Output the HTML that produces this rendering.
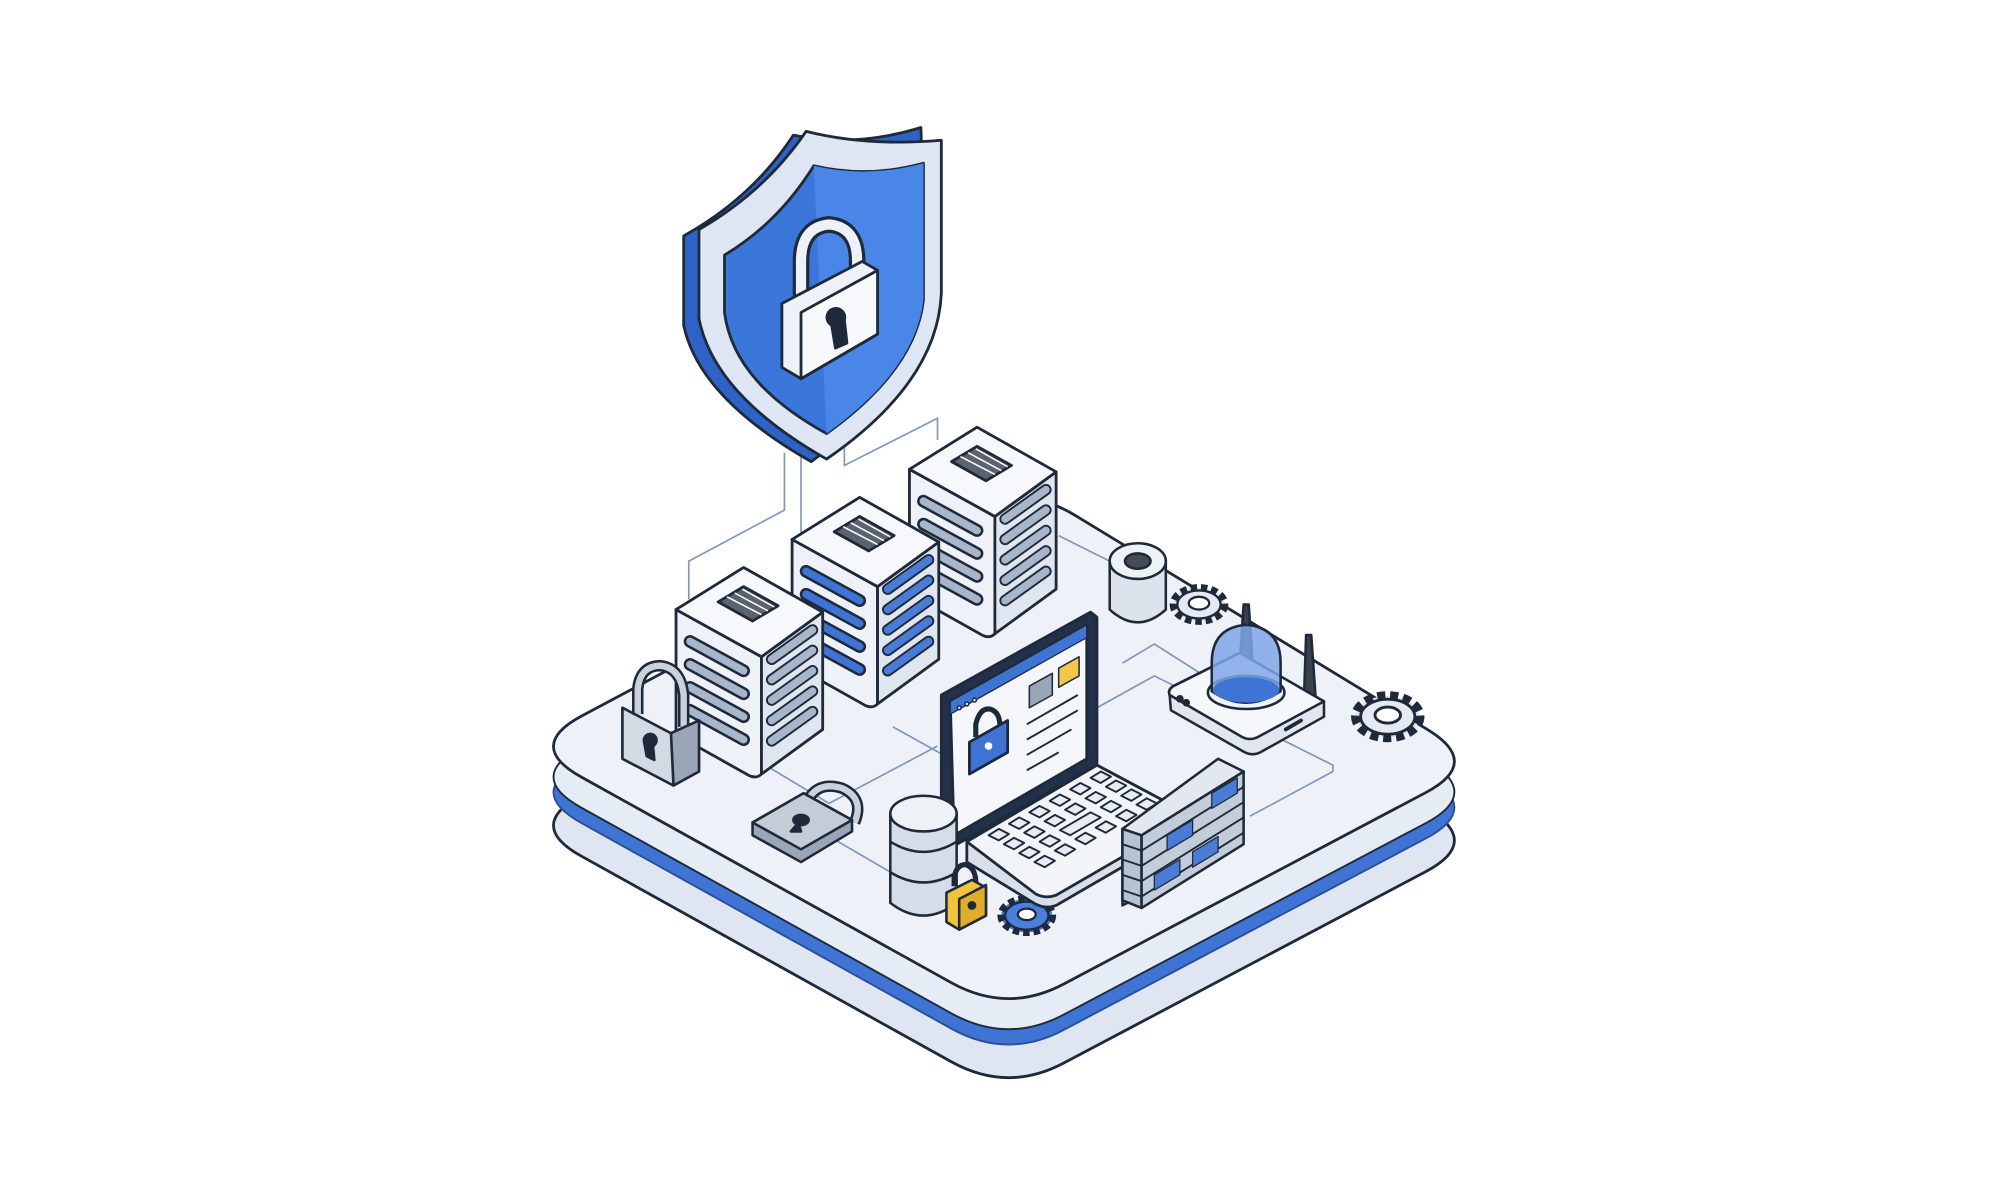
<!DOCTYPE html>
<html><head><meta charset="utf-8"><style>html,body{margin:0;padding:0;background:#fff}svg{display:block}</style></head>
<body>
<svg width="2000" height="1200" viewBox="0 0 1568 941" preserveAspectRatio="none" xmlns="http://www.w3.org/2000/svg">
<defs>
<path id="plat" d="M456,561.5 L756,401.5 Q800,378 842.7,404 L1119,572 Q1162,598 1118,621.4 L834,771.6 Q790,795 746,770.7 L455.7,609.3 Q412,585 456,561.5 Z"/>
<g id="server" stroke="#1e2a3a" stroke-width="2.2" stroke-linejoin="round">
<path d="M-67,-37 L0,0 L0,92 Q-4,96 -10,93 L-67,61 Z" fill="#eef1f7"/>
<path d="M0,0 L48,-35 L48,57 L0,92 Z" fill="#e0e6ef"/>
<path d="M-67,-37 L-14,-70 L48,-35 L0,0 Z" fill="#f6f8fb"/>
<path d="M-34,-43 L-14,-55 L13,-40 L-7,-28 Z" fill="#5b6370"/>
<g stroke="#fff" stroke-width="1.2"><path d="M-27,-47 L0,-33"/><path d="M-21,-50 L5,-36"/><path d="M-15,-53 L10,-39"/></g>
</g>
<g id="lslots" stroke-linecap="round">
<g stroke="#1e2a3a" stroke-width="10"><path d="M-56,-12 L-14,11"/><path d="M-56,6 L-14,29"/><path d="M-56,24 L-14,47"/><path d="M-56,42 L-14,65"/></g>
</g>
<g id="rslots" stroke-linecap="round">
<g stroke="#1e2a3a" stroke-width="9"><path d="M8,2 L40,-21"/><path d="M8,18 L40,-5"/><path d="M8,34 L40,11"/><path d="M8,50 L40,27"/><path d="M8,66 L40,43"/></g>
</g>
<g id="gear" stroke="#1e2a3a" stroke-width="1.8">
<ellipse cx="0" cy="0" rx="20" ry="13" fill="#dfe4ec" stroke-dasharray="5 3" stroke-width="6"/>
<ellipse cx="0" cy="0" rx="17" ry="11" fill="#e5e9f0"/>
<ellipse cx="0" cy="-1" rx="8" ry="5" fill="#fff"/>
</g>
</defs>

<use href="#plat" transform="translate(0,62)" fill="#dfe6f1" stroke="#1e2a3a" stroke-width="2.2"/>
<use href="#plat" transform="translate(0,36)" fill="#3f74d4" stroke="#2a4f99" stroke-width="1.5"/>
<use href="#plat" transform="translate(0,24)" fill="#e6ecf5" stroke="#1e2a3a" stroke-width="1.5"/>
<use href="#plat" fill="#eef2f8" stroke="#1e2a3a" stroke-width="2.2"/>

<g fill="none" stroke="#7d97bd" stroke-width="1.3">
<path d="M615,355 L615,400 L540,440 L540,470"/>
<path d="M628,350 L628,480"/>
<path d="M662,345 L662,365 L735,328 L735,345"/>
<path d="M830,420 L870,440"/>
<path d="M880,520 L905,505 L960,540"/>
<path d="M860,555 L905,530 L1045,600 L1045,605 L980,640"/>
<path d="M600,600 L650,630 L735,585"/>
<path d="M640,650 L700,685"/>
<path d="M700,570 L745,595"/>
</g>

<use href="#server" transform="translate(780,405)"/>
<use href="#lslots" transform="translate(780,405)"/>
<g transform="translate(780,405)" stroke-linecap="round" stroke="#a8b6cb" stroke-width="6"><path d="M-56,-12 L-14,11"/><path d="M-56,6 L-14,29"/><path d="M-56,24 L-14,47"/><path d="M-56,42 L-14,65"/></g>
<use href="#rslots" transform="translate(780,405)"/>
<g transform="translate(780,405)" stroke-linecap="round" stroke="#a8b6cb" stroke-width="6"><path d="M8,2 L40,-21"/><path d="M8,18 L40,-5"/><path d="M8,34 L40,11"/><path d="M8,50 L40,27"/><path d="M8,66 L40,43"/></g>

<use href="#server" transform="translate(688,460)"/>
<use href="#lslots" transform="translate(688,460)"/>
<g transform="translate(688,460)" stroke-linecap="round" stroke="#3f74d4" stroke-width="6"><path d="M-56,-12 L-14,11"/><path d="M-56,6 L-14,29"/><path d="M-56,24 L-14,47"/><path d="M-56,42 L-14,65"/></g>
<use href="#rslots" transform="translate(688,460)"/>
<g transform="translate(688,460)" stroke-linecap="round" stroke="#4a7bd6" stroke-width="6"><path d="M8,2 L40,-21"/><path d="M8,18 L40,-5"/><path d="M8,34 L40,11"/><path d="M8,50 L40,27"/><path d="M8,66 L40,43"/></g>

<use href="#server" transform="translate(597,515)"/>
<use href="#lslots" transform="translate(597,515)"/>
<g transform="translate(597,515)" stroke-linecap="round" stroke="#a8b6cb" stroke-width="6"><path d="M-56,-12 L-14,11"/><path d="M-56,6 L-14,29"/><path d="M-56,24 L-14,47"/><path d="M-56,42 L-14,65"/></g>
<use href="#rslots" transform="translate(597,515)"/>
<g transform="translate(597,515)" stroke-linecap="round" stroke="#a8b6cb" stroke-width="6"><path d="M8,2 L40,-21"/><path d="M8,18 L40,-5"/><path d="M8,34 L40,11"/><path d="M8,50 L40,27"/><path d="M8,66 L40,43"/></g>

<g stroke="#1e2a3a" stroke-width="2.2" stroke-linejoin="round">
<path d="M536,185 Q590,155 622,106 Q670,116 722,100 L726,232 Q722,300 636,362 Q548,312 536,255 Z" fill="#2f62c6"/>
<path d="M548,180 Q600,150 632,103 Q680,115 738,110 L738,230 Q735,300 648,360 Q560,310 548,250 Z" fill="#dfe6f3"/>
<path d="M568,200 Q610,175 638,130 Q680,140 724,128 L724,235 Q718,290 648,340 Q575,300 568,245 Z" fill="#3b76db"/>
<path d="M638,130 Q680,140 724,128 L724,235 Q718,290 648,340 Z" fill="#4a86e8" stroke="none"/>
<path d="M628,230 L628,205 Q628,178 650,176 Q672,178 672,205 L672,222" fill="none" stroke="#1e2a3a" stroke-width="13" stroke-linecap="round"/>
<path d="M628,230 L628,205 Q628,178 650,176 Q672,178 672,205 L672,222" fill="none" stroke="#eef1f7" stroke-width="8" stroke-linecap="round"/>
<path d="M613,238 L676,205 L688,212 L688,262 L628,297 L613,288 Z" fill="#eef1f7"/>
<path d="M628,245 L688,212 L688,262 L628,297 Z" fill="#f8f9fc"/>
<path d="M652,255 a7,7 0 1 1 10,-4 l2,18 l-9,4 Z" fill="#1e2a3a"/>
</g>

<g stroke="#1e2a3a" stroke-width="2">
<path d="M870,440 L870,478 Q892,498 914,478 L914,440 Z" fill="#dde3ec"/>
<ellipse cx="892" cy="440" rx="22" ry="14" fill="#eef1f6"/>
<ellipse cx="892" cy="440" rx="10" ry="6" fill="#444c58"/>
</g>

<use href="#gear" transform="translate(940,474)"/>
<use href="#gear" transform="translate(1088,562) scale(1.25)"/>
<g transform="translate(805,718)" stroke="#1e2a3a" stroke-width="1.8">
<ellipse rx="20" ry="13" fill="#3f74d4" stroke-dasharray="5 3" stroke-width="6"/>
<ellipse rx="17" ry="11" fill="#4a7fdc"/><ellipse cy="-1" rx="7" ry="4.5" fill="#fff"/></g>

<g stroke="#1e2a3a" stroke-width="2" stroke-linejoin="round">
<path d="M1024,498 L1028,498 L1032,555 L1022,557 Z" fill="#3a414c"/>
<path d="M975,474 L979,474 L982,520 L972,520 Z" fill="#3a414c"/>
<path d="M917,545 Q915,540 922,537 L972,512 L1038,550 L1038,562 L988,590 Q982,593 976,590 L918,557 Z" fill="#e1e6ee"/>
<path d="M917,545 Q915,540 922,537 L972,512 L1038,550 L986,578 Q980,581 974,578 Z" fill="#f5f7fa"/>
<ellipse cx="977" cy="543" rx="30" ry="13" fill="#eef1f6"/>
<path d="M950,542 L950,520 Q950,492 977,490 Q1004,492 1004,520 L1004,542 Q977,560 950,542 Z" fill="#7fa6e8" fill-opacity="0.85"/>
<ellipse cx="977" cy="541" rx="26" ry="10" fill="#3f74d4" stroke="none"/>
<circle cx="925" cy="548" r="2" fill="#1e2a3a"/><circle cx="930" cy="551" r="2" fill="#1e2a3a"/>
<path d="M1008,572 L1020,565" stroke-width="3" stroke-linecap="round"/>
</g>

<g stroke="#1e2a3a" stroke-width="2" stroke-linejoin="round">
<path d="M500,560 L500,540 Q502,522 518,522 Q534,524 536,545 L536,570" fill="none" stroke-width="9"/>
<path d="M500,560 L500,540 Q502,522 518,522 Q534,524 536,545 L536,570" fill="none" stroke="#c9d1dd" stroke-width="5"/>
<path d="M488,555 L526,575 L548,565 L548,605 L528,616 L488,595 Z" fill="#c0c9d6"/>
<path d="M526,575 L548,565 L548,605 L528,616 Z" fill="#9aa6b8"/>
<path d="M488,555 L526,575 L528,616 L488,595 Z" fill="#d3dae4"/>
<path d="M505,582 a5,5 0 1 1 7,3 l1,11 l-6,-3 Z" fill="#1e2a3a"/>
</g>

<g stroke="#1e2a3a" stroke-width="2" stroke-linejoin="round">
<path d="M632,630 Q640,612 660,618 Q678,626 670,645" fill="none" stroke-width="9"/>
<path d="M632,630 Q640,612 660,618 Q678,626 670,645" fill="none" stroke="#c9d1dd" stroke-width="5"/>
<path d="M590,645 L630,622 L668,643 L668,652 L628,676 L590,655 Z" fill="#9aa6b8"/>
<path d="M590,645 L630,622 L668,643 L628,666 Z" fill="#c4ccd8"/>
<ellipse cx="628" cy="643" rx="6" ry="4" fill="#1e2a3a"/><path d="M626,645 L620,652 L628,652 Z" fill="#1e2a3a"/>
</g>

<g stroke="#1e2a3a" stroke-width="2.2" stroke-linejoin="round">
<path d="M758,660 L860,600 L935,640 L935,648 L828,710 Q820,713 812,709 L758,676 Z" fill="#d9dfe9"/>
<path d="M758,660 L860,600 L935,640 L828,702 Q820,705 812,701 Z" fill="#f2f4f8"/>
<path d="M738,545 L855,480 L860,484 L860,600 L745,665 L738,660 Z" fill="#23304a"/>
<path d="M745,550 L852,490 L852,595 L748,655 Z" fill="#f4f6fa"/>
<path d="M745,550 L852,490 L852,500 L745,560 Z" fill="#3f74d4" stroke-width="1"/>
<path d="M807,538 L825,528 L825,545 L807,555 Z" fill="#9aa6b8" stroke-width="1.2"/>
<path d="M830,524 L846,515 L846,530 L830,539 Z" fill="#f2c84b" stroke-width="1.2"/>
<g stroke-width="1.5" fill="none"><path d="M805,568 L845,545"/><path d="M805,580 L845,557"/><path d="M805,592 L840,572"/><path d="M805,604 L830,590"/></g>
<path d="M765,578 L765,568 Q768,555 776,556 Q784,558 784,570 L784,578" fill="none" stroke-width="4"/>
<path d="M760,582 L790,565 L790,590 L760,607 Z" fill="#3f74d4"/>
<circle cx="775" cy="585" r="3" fill="#fff" stroke="none"/>
<g fill="#fff" stroke-width="1.2">
<circle cx="752" cy="555" r="1.5"/><circle cx="758" cy="552" r="1.5"/><circle cx="764" cy="549" r="1.5"/>
</g>
<g fill="#e8ecf2" stroke-width="1.5">
<path d="M775,655 l8,-5 l8,4 l-8,5 Z"/><path d="M791,646 l8,-5 l8,4 l-8,5 Z"/><path d="M807,637 l8,-5 l8,4 l-8,5 Z"/><path d="M823,628 l8,-5 l8,4 l-8,5 Z"/><path d="M839,619 l8,-5 l8,4 l-8,5 Z"/><path d="M855,610 l8,-5 l8,4 l-8,5 Z"/>
<path d="M787,662 l8,-5 l8,4 l-8,5 Z"/><path d="M803,653 l8,-5 l8,4 l-8,5 Z"/><path d="M819,644 l8,-5 l8,4 l-8,5 Z"/><path d="M835,635 l8,-5 l8,4 l-8,5 Z"/><path d="M851,626 l8,-5 l8,4 l-8,5 Z"/><path d="M867,617 l8,-5 l8,4 l-8,5 Z"/>
<path d="M799,669 l8,-5 l8,4 l-8,5 Z"/><path d="M815,660 l8,-5 l8,4 l-8,5 Z"/><path d="M831,651 l24,-14 l8,4 l-24,14 Z"/><path d="M863,633 l8,-5 l8,4 l-8,5 Z"/><path d="M879,624 l8,-5 l8,4 l-8,5 Z"/>
<path d="M811,676 l8,-5 l8,4 l-8,5 Z"/><path d="M827,667 l8,-5 l8,4 l-8,5 Z"/><path d="M843,658 l8,-5 l8,4 l-8,5 Z"/><path d="M859,649 l8,-5 l8,4 l-8,5 Z"/><path d="M875,640 l8,-5 l8,4 l-8,5 Z"/><path d="M891,631 l8,-5 l8,4 l-8,5 Z"/>
</g>
</g>

<g stroke="#1e2a3a" stroke-width="2" stroke-linejoin="round">
<path d="M880,650 L890,645 L890,705 L880,710 Z" fill="#c6cfdc"/>
<path d="M880,650 L955,595 L975,605 L895,655 Z" fill="#e3e8f0"/>
<path d="M880,650 L895,655 L895,712 L880,706 Z" fill="#b7c2d2"/>
<path d="M895,655 L975,605 L975,662 L895,712 Z" fill="#c3ccd9"/>
<g stroke-width="1.5" fill="none">
<path d="M895,667 L975,617"/><path d="M895,679 L975,629"/><path d="M895,691 L975,641"/><path d="M895,703 L975,653"/>
<path d="M880,662 L895,667"/><path d="M880,674 L895,679"/><path d="M880,686 L895,691"/><path d="M880,698 L895,703"/>
</g>
<path d="M915,655 L935,643 L935,655 L915,667 Z" fill="#4a7bd6" stroke-width="1"/>
<path d="M935,668 L955,656 L955,668 L935,680 Z" fill="#4a7bd6" stroke-width="1"/>
<path d="M905,686 L925,674 L925,686 L905,698 Z" fill="#4a7bd6" stroke-width="1"/>
<path d="M950,622 L970,610 L970,622 L950,634 Z" fill="#4a7bd6" stroke-width="1"/>
</g>

<g stroke="#1e2a3a" stroke-width="2">
<path d="M698,638 L698,708 Q724,728 750,708 L750,638 Z" fill="#d6dde8"/>
<path d="M698,660 Q724,676 750,660" fill="none"/>
<path d="M698,684 Q724,700 750,684" fill="none"/>
<ellipse cx="724" cy="638" rx="26" ry="14" fill="#eef1f6"/>
</g>
<g stroke="#1e2a3a" stroke-width="2" stroke-linejoin="round">
<path d="M748,695 L748,688 Q750,678 757,678 Q764,680 765,690 L765,696" fill="none" stroke-width="4"/>
<path d="M742,700 L762,690 L773,696 L773,718 L752,729 L742,723 Z" fill="#f0c23e"/>
<path d="M752,705 L773,694 L773,718 L752,729 Z" fill="#e0ac2a"/>
<circle cx="762" cy="710" r="2.5" fill="#1e2a3a"/>
</g>
</svg>
</body></html>
